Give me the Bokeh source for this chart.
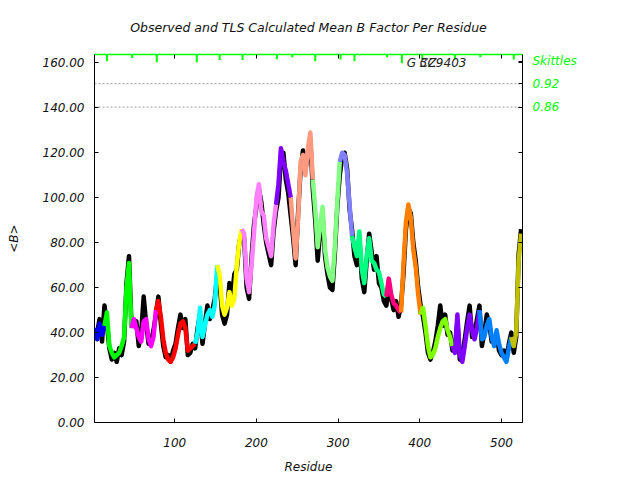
from bokeh.plotting import figure
from bokeh.models import LinearAxis, FixedTicker, PrintfTickFormatter, Range1d, Label
from bokeh.embed import file_html
from bokeh.resources import INLINE

# ---------------- data ----------------
residue = list(range(2, 525, 3))

tls_calc = [
    42, 37, 44, 39, 43, 49, 34, 31, 29, 30,
    31, 34, 38, 60, 71, 42, 46, 42, 38, 36,
    45, 46, 37, 34, 38, 50, 54, 47, 37, 31,
    28, 27, 29, 33, 39, 44, 45, 42, 32, 33,
    34, 35, 40, 51, 38, 43, 48, 50, 47, 52,
    70, 66, 52, 48, 51, 58, 52, 55, 70, 80,
    86, 84, 64, 58, 70, 84, 100, 106, 94, 92,
    82, 78, 74, 88, 97, 106, 122, 116, 112, 106,
    100, 86, 73, 90, 116, 119, 110, 122, 129, 108,
    95, 78, 88, 96, 77, 69, 65, 63, 78, 98,
    116, 120, 119, 111, 97, 83, 78, 74, 85, 68,
    62, 74, 82, 72, 71, 68, 67, 62, 57, 56,
    64, 57, 53, 52, 50, 49, 70, 89, 97, 91,
    77, 69, 57, 48, 51, 43, 34, 29, 30, 33,
    38, 42, 45, 46, 41, 38, 34, 31, 48, 30,
    27, 34, 42, 48, 41, 37, 42, 50, 37, 38,
    43, 46, 38, 34, 41, 35, 31, 29, 27, 33,
    38, 34, 40, 72, 84,
]

observed = [
    38, 40, 46, 36, 52, 44, 33, 28, 31, 27,
    33, 30, 36, 62, 74, 44, 44, 45, 34, 40,
    56, 44, 35, 36, 41, 48, 56, 44, 34, 29,
    30, 27, 32, 35, 42, 48, 42, 46, 30, 31,
    35, 33, 42, 48, 35, 44, 52, 46, 50, 55,
    66, 62, 48, 44, 48, 62, 56, 66, 68, 80,
    84, 82, 60, 55, 73, 88, 96, 104, 98, 88,
    80, 75, 70, 85, 94, 100, 118, 120, 108, 102,
    92, 82, 70, 93, 112, 121, 113, 118, 126, 104,
    90, 72, 85, 92, 74, 66, 60, 59, 75, 96,
    110, 118, 120, 113, 95, 86, 74, 70, 82, 64,
    58, 72, 84, 76, 68, 74, 62, 60, 54, 52,
    60, 55, 50, 54, 47, 52, 66, 86, 95, 93,
    80, 72, 60, 52, 47, 40, 31, 28, 31, 36,
    43, 52, 43, 48, 39, 40, 32, 33, 45, 28,
    29, 37, 45, 52, 38, 40, 46, 52, 34, 40,
    48, 44, 36, 37, 39, 32, 30, 32, 28, 35,
    40, 31, 38, 75, 86,
]

segment_start = [2, 17, 48, 78, 127, 155, 183, 225, 244, 272, 303, 320,
                 360, 378, 403, 443, 474, 515]
segment_colors = ["#0000ff", "#00ff00", "#ff00ff", "#ff0000", "#00ffff",
                  "#ffff00", "#ff80ff", "#8000ff", "#ff9980", "#80ff80",
                  "#8080ff", "#00ff80", "#ff0080", "#ff8000", "#80ff00",
                  "#8000ff", "#0080ff", "#c0c000"]
skittle_depth = [3.0, 1.6, 3.4, 3.4, 2.4, 2.4, 2.1, 1.2, 3.0, 2.2, 3.0,
                 1.2, 3.9, 2.2, 2.2, 1.2, 2.2]
skittle_title_level = 160.8
skittle_levels = [150.7, 140.3]
skittle_labels = ["0.92", "0.86"]
y_ticks = [0, 20, 40, 60, 80, 100, 120, 140, 160]
x_ticks = [100, 200, 300, 400, 500]
title_text = "Observed and TLS Calculated Mean B Factor Per Residue"

X0, X1 = 1.8, 525.7
Y0, Y1 = 0.0, 163.7
FONT = "DejaVu Sans"
GREEN = "#00ff00"

p = figure(width=624, height=476, x_range=Range1d(X0, X1), y_range=Range1d(Y0, Y1),
           output_backend="svg", toolbar_location=None,
           min_border_left=94, min_border_right=102, min_border_top=54,
           min_border_bottom=54, x_axis_label="Residue", y_axis_label="<B>")
p.outline_line_color = None
p.grid.visible = False
p.background_fill_color = "white"
p.border_fill_color = "white"

for ax in (p.xaxis[0], p.yaxis[0]):
    ax.major_tick_in = 4
    ax.major_tick_out = 0
    ax.minor_tick_line_color = None
    ax.axis_line_color = "black"
    ax.major_label_text_font = FONT
    ax.major_label_text_font_style = "italic"
    ax.major_label_text_font_size = "12px"
    ax.major_label_text_color = "#111111"
    ax.axis_label_text_font = FONT
    ax.axis_label_text_font_style = "italic"
    ax.axis_label_text_font_size = "12px"
    ax.axis_label_text_color = "#111111"

p.xaxis[0].ticker = FixedTicker(ticks=x_ticks)
p.xaxis[0].major_label_standoff = 15
p.xaxis[0].axis_label_standoff = 10
p.yaxis[0].ticker = FixedTicker(ticks=y_ticks)
p.yaxis[0].formatter = PrintfTickFormatter(format="%.2f")
p.yaxis[0].major_label_standoff = 10
p.yaxis[0].axis_label_standoff = 19

# top border (green) carries the chart title as its label
top_axis = LinearAxis(ticker=FixedTicker(ticks=x_ticks), axis_line_color=GREEN,
                      axis_line_width=1.5, major_tick_in=4, major_tick_out=0,
                      major_tick_line_color="black", minor_tick_line_color=None,
                      major_label_overrides={t: "" for t in x_ticks},
                      major_label_standoff=0,
                      axis_label=title_text, axis_label_standoff=20,
                      axis_label_text_font=FONT, axis_label_text_font_style="italic",
                      axis_label_text_font_size="12.5px", axis_label_text_color="#111111")
p.add_layout(top_axis, "above")

# right axis carries the skittles legend texts
right_overrides = {t: "" for t in y_ticks}
right_overrides[skittle_title_level] = "Skittles"
for lvl, lab in zip(skittle_levels, skittle_labels):
    right_overrides[lvl] = lab
right_axis = LinearAxis(ticker=FixedTicker(ticks=y_ticks + skittle_levels + [skittle_title_level]),
                        axis_line_color="black", major_tick_in=4, major_tick_out=0,
                        minor_tick_line_color=None, major_label_overrides=right_overrides,
                        major_label_standoff=10, major_label_text_font=FONT,
                        major_label_text_font_style="italic",
                        major_label_text_font_size="12px",
                        major_label_text_color=GREEN)
p.add_layout(right_axis, "right")

# dotted reference lines
for lvl in skittle_levels:
    p.line([X0, X1], [lvl, lvl], line_color="#999999", line_width=1, line_dash="2 2")

# observed (black)
p.line(residue, observed, line_color="black", line_width=4.5, line_join="round")

# TLS calculated, coloured by segment
n = len(residue)
for i, start in enumerate(segment_start):
    end = segment_start[i + 1] if i + 1 < len(segment_start) else 10_000
    idx = [j for j in range(n) if start <= residue[j] < end]
    if not idx:
        continue
    if idx[0] > 0:
        idx = [idx[0] - 1] + idx
    p.line([residue[j] for j in idx], [tls_calc[j] for j in idx],
           line_color=segment_colors[i], line_width=4.5, line_join="round")

# skittle ticks hanging from the top border
bounds = segment_start[1:]
p.segment(x0=bounds, y0=[Y1] * len(bounds), x1=bounds,
          y1=[Y1 - d for d in skittle_depth], line_color=GREEN, line_width=2)

# chain labels (overlapping)
p.add_layout(Label(x=384, y=160, text="G 3C9403", text_font=FONT, text_font_style="italic",
                   text_font_size="12px", text_color="#222222", text_baseline="middle"))
p.add_layout(Label(x=400, y=160, text="CZ", text_font=FONT, text_font_style="italic",
                   text_font_size="12px", text_color="#222222", text_baseline="middle"))

open("out.html", "w").write(file_html(p, INLINE))
